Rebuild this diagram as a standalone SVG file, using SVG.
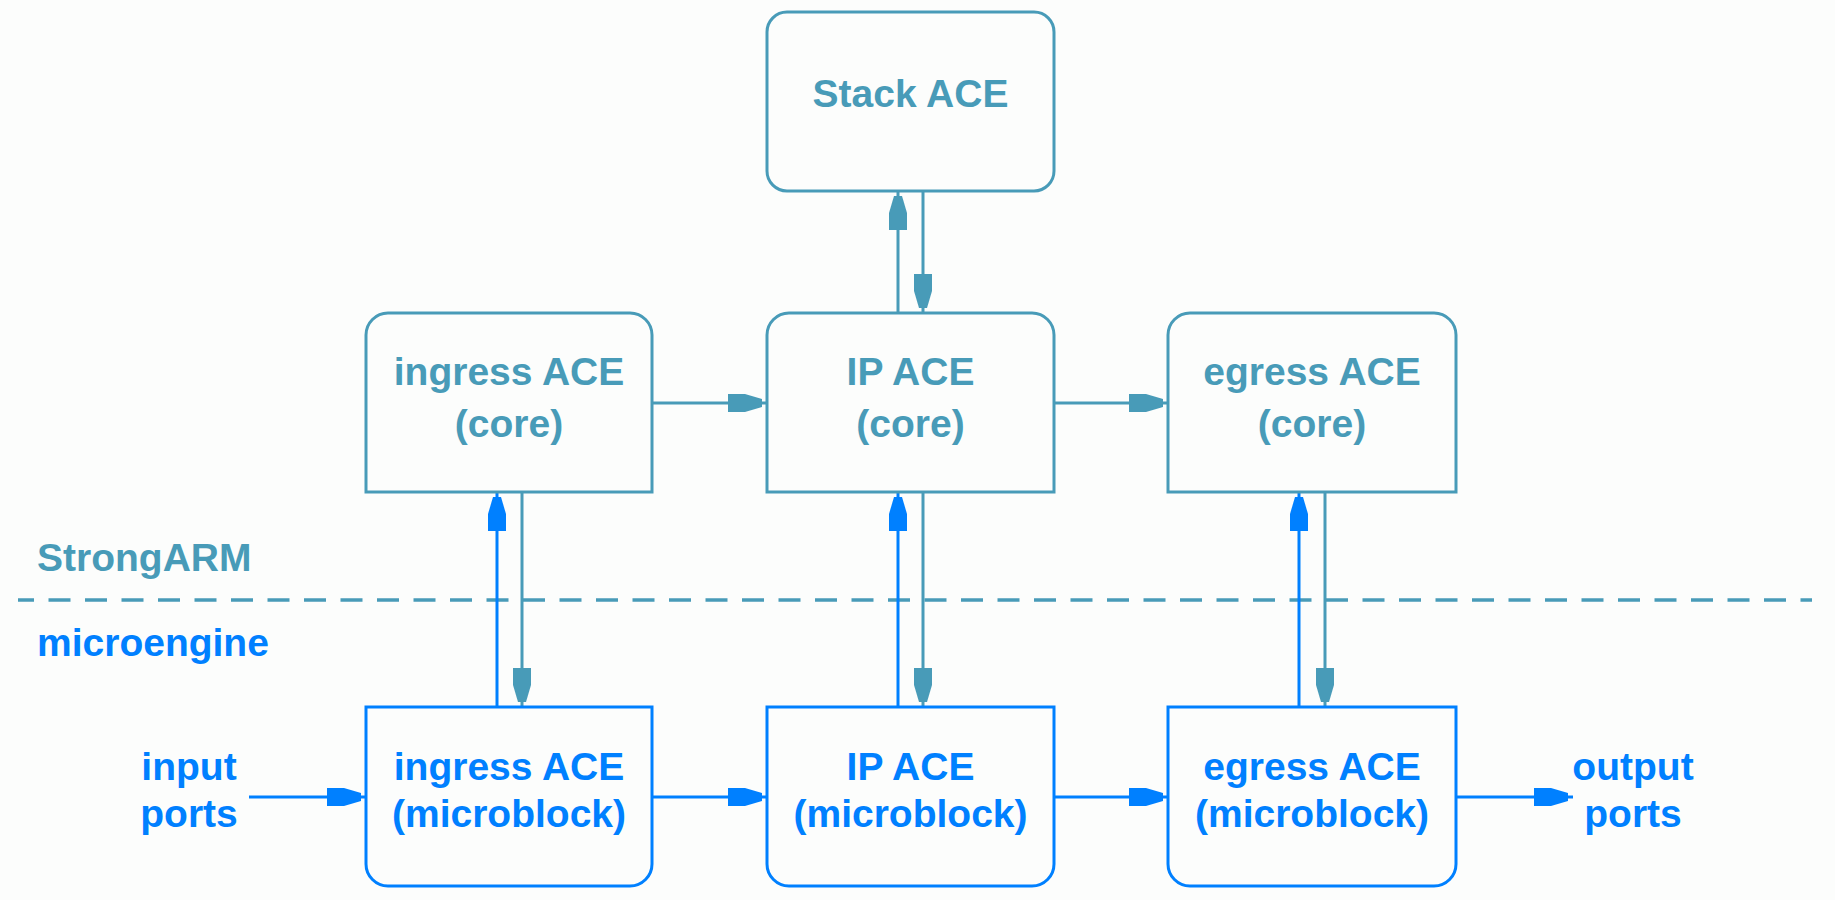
<svg xmlns="http://www.w3.org/2000/svg" width="1835" height="900" viewBox="0 0 1835 900">
<style>
.bg{fill:#fcfdfc}
.tbox{fill:#fcfdfc;stroke:#489bb8;stroke-width:3}
.bbox{fill:#fcfdfc;stroke:#0080ff;stroke-width:3}
.tl{fill:none;stroke:#489bb8;stroke-width:3}
.bl{fill:none;stroke:#0080ff;stroke-width:3}
.tt{font-family:"Liberation Sans",Arial,sans-serif;font-weight:bold;font-size:39px;fill:#489bb8;text-anchor:middle}
.bt{font-family:"Liberation Sans",Arial,sans-serif;font-weight:bold;font-size:39px;fill:#0080ff;text-anchor:middle}
.lt{text-anchor:start}
.tl.a{marker-end:url(#ta)}
.bl.a{marker-end:url(#ba)}
</style>
<defs>
<marker id="ta" markerUnits="userSpaceOnUse" viewBox="0 0 40 20" markerWidth="40" markerHeight="20" refX="39" refY="10" orient="auto">
<path d="M0,1 L17,1 L34,6 L34,14 L17,19 L0,19 Z" fill="#489bb8"/>
</marker>
<marker id="ba" markerUnits="userSpaceOnUse" viewBox="0 0 40 20" markerWidth="40" markerHeight="20" refX="39" refY="10" orient="auto">
<path d="M0,1 L17,1 L34,6 L34,14 L17,19 L0,19 Z" fill="#0080ff"/>
</marker>
</defs>
<rect class="bg" x="0" y="0" width="1835" height="900"/>

<g id="divider">
<line x1="18" y1="600" x2="1812" y2="600" stroke="#489bb8" stroke-width="3.5" stroke-dasharray="22 14.5" stroke-dashoffset="6"/>
<text class="tt lt" x="37" y="571">StrongARM</text>
<text class="bt lt" x="37" y="656">microengine</text>
</g>

<g id="connectors">
<path class="tl a" d="M898,313 V191"/>
<path class="tl a" d="M923,191 V313"/>
<path class="tl a" d="M652,403 H767"/>
<path class="tl a" d="M1054,403 H1168"/>
<path class="tl a" d="M522,492 V707"/>
<path class="tl a" d="M923,492 V707"/>
<path class="tl a" d="M1325,492 V707"/>
<path class="bl a" d="M497,707 V492"/>
<path class="bl a" d="M898,707 V492"/>
<path class="bl a" d="M1299,707 V492"/>
<path class="bl a" d="M249,797 H366"/>
<path class="bl a" d="M652,797 H767"/>
<path class="bl a" d="M1054,797 H1168"/>
<path class="bl a" d="M1456,797 H1573"/>
</g>

<g id="stack-ace">
<rect class="tbox" x="767" y="12" width="287" height="179" rx="20" ry="20"/>
<text class="tt" x="910.5" y="107">Stack ACE</text>
</g>

<g id="ingress-core">
<path class="tbox" d="M366,492 V335 A22,22 0 0 1 388,313 H630 A22,22 0 0 1 652,335 V492 Z"/>
<text class="tt" x="509" y="385">ingress ACE</text>
<text class="tt" x="509" y="437">(core)</text>
</g>

<g id="ip-core">
<path class="tbox" d="M767,492 V335 A22,22 0 0 1 789,313 H1032 A22,22 0 0 1 1054,335 V492 Z"/>
<text class="tt" x="910.5" y="385">IP ACE</text>
<text class="tt" x="910.5" y="437">(core)</text>
</g>

<g id="egress-core">
<path class="tbox" d="M1168,492 V335 A22,22 0 0 1 1190,313 H1434 A22,22 0 0 1 1456,335 V492 Z"/>
<text class="tt" x="1312" y="385">egress ACE</text>
<text class="tt" x="1312" y="437">(core)</text>
</g>

<g id="ingress-mb">
<path class="bbox" d="M366,707 H652 V864 A22,22 0 0 1 630,886 H388 A22,22 0 0 1 366,864 Z"/>
<text class="bt" x="509" y="780">ingress ACE</text>
<text class="bt" x="509" y="827">(microblock)</text>
</g>

<g id="ip-mb">
<path class="bbox" d="M767,707 H1054 V864 A22,22 0 0 1 1032,886 H789 A22,22 0 0 1 767,864 Z"/>
<text class="bt" x="910.5" y="780">IP ACE</text>
<text class="bt" x="910.5" y="827">(microblock)</text>
</g>

<g id="egress-mb">
<path class="bbox" d="M1168,707 H1456 V864 A22,22 0 0 1 1434,886 H1190 A22,22 0 0 1 1168,864 Z"/>
<text class="bt" x="1312" y="780">egress ACE</text>
<text class="bt" x="1312" y="827">(microblock)</text>
</g>

<g id="input-ports">
<text class="bt" x="189" y="780">input</text>
<text class="bt" x="189" y="827">ports</text>
</g>

<g id="output-ports">
<text class="bt" x="1633" y="780">output</text>
<text class="bt" x="1633" y="827">ports</text>
</g>
</svg>
